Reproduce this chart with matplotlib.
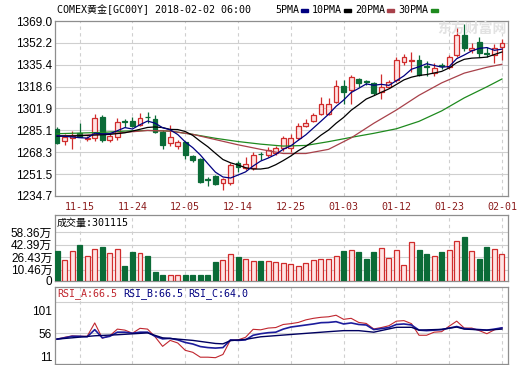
import matplotlib
matplotlib.use("Agg")
import matplotlib.pyplot as plt

plt.rcParams['font.family'] = ['Liberation Sans', 'Noto Sans CJK SC']

# ---- data ----
dates = ['11-15', '11-24', '12-05', '12-14', '12-25', '01-03', '01-12', '01-23', '02-01']
date_idx = [3, 10, 17, 24, 31, 38, 45, 52, 59]

opens = [1286.0, 1277.0, 1279.0, 1282.8, 1278.5, 1279.0, 1295.0, 1277.7, 1279.7, 1292.0,
         1292.5, 1289.2, 1295.5, 1293.5, 1284.0, 1275.1, 1273.0, 1276.4, 1265.4, 1262.9,
         1247.4, 1250.0, 1245.0, 1244.4, 1259.8, 1256.0, 1256.0, 1267.0, 1266.2, 1267.5,
         1271.3, 1271.3, 1279.0, 1288.4, 1292.5, 1297.6, 1297.6, 1307.1, 1319.1, 1316.0,
         1324.7, 1322.7, 1321.2, 1314.7, 1318.6, 1323.7, 1337.8, 1338.5, 1339.1, 1334.3,
         1328.9, 1334.8, 1334.0, 1343.0, 1358.3, 1346.7, 1353.1, 1344.8, 1342.9, 1348.8]
highs = [1288.0, 1282.0, 1284.8, 1290.5, 1280.5, 1297.6, 1297.0, 1282.5, 1294.3, 1294.0,
         1295.0, 1298.6, 1299.0, 1297.0, 1285.0, 1289.2, 1278.0, 1277.0, 1266.5, 1264.0,
         1249.5, 1250.8, 1248.5, 1260.3, 1261.5, 1264.9, 1268.7, 1268.5, 1272.0, 1273.0,
         1280.5, 1282.3, 1290.5, 1293.5, 1298.6, 1310.9, 1310.0, 1323.7, 1323.7, 1327.5,
         1325.5, 1324.0, 1322.5, 1328.0, 1324.0, 1341.0, 1344.0, 1345.0, 1343.0, 1338.0,
         1336.5, 1337.0, 1343.0, 1364.5, 1366.5, 1352.0, 1357.0, 1349.0, 1351.5, 1355.5]
lows = [1274.6, 1274.0, 1270.5, 1279.7, 1277.0, 1277.0, 1276.0, 1276.5, 1278.0, 1287.5,
        1287.5, 1288.5, 1291.0, 1283.0, 1270.8, 1273.0, 1270.5, 1263.0, 1261.0, 1244.5,
        1242.4, 1243.0, 1239.3, 1243.5, 1253.5, 1254.6, 1255.0, 1262.0, 1265.0, 1266.0,
        1269.5, 1268.5, 1277.5, 1287.5, 1291.7, 1296.9, 1296.9, 1306.0, 1305.0, 1305.0,
        1318.0, 1320.0, 1312.0, 1309.0, 1317.5, 1322.5, 1335.5, 1330.0, 1326.5, 1327.0,
        1327.0, 1332.5, 1332.0, 1341.0, 1346.0, 1344.5, 1341.0, 1341.5, 1337.0, 1339.0]
closes = [1275.6, 1280.0, 1280.5, 1280.0, 1279.5, 1294.3, 1277.7, 1281.0, 1291.7, 1291.5,
          1288.4, 1294.3, 1295.0, 1284.0, 1274.0, 1280.2, 1276.4, 1266.2, 1262.3, 1245.7,
          1247.0, 1243.9, 1247.5, 1258.5, 1257.2, 1259.0, 1266.2, 1266.7, 1270.0, 1271.3,
          1279.0, 1279.0, 1288.4, 1291.0, 1296.9, 1305.3, 1305.3, 1319.1, 1314.7, 1326.3,
          1321.2, 1322.4, 1314.0, 1318.1, 1322.4, 1339.1, 1341.1, 1339.3, 1327.6, 1334.0,
          1332.7, 1334.5, 1341.1, 1358.3, 1348.0, 1348.5, 1344.2, 1344.0, 1348.0, 1352.3]

# volume in 万
volume = [34.3, 22.6, 34.3, 42.1, 27.8, 36.9, 39.9, 31.7, 36.9, 15.2,
          33.4, 31.3, 27.8, 7.4, 4.0, 3.1, 3.1, 4.0, 4.0, 4.0,
          4.0, 20.4, 23.0, 30.0, 26.5, 24.8, 22.2, 22.2, 21.7, 20.0,
          19.1, 18.3, 14.8, 19.6, 22.6, 23.9, 23.9, 27.8, 34.7, 35.6,
          33.4, 24.8, 33.0, 37.8, 26.1, 35.6, 17.0, 45.6, 35.6, 30.4,
          27.4, 33.4, 35.6, 47.3, 52.5, 34.3, 23.9, 39.9, 36.9, 30.1]

ma5 = [1281.0, 1280.5, 1280.0, 1279.5, 1279.1, 1282.9, 1282.4, 1282.5, 1284.8, 1287.2,
       1286.1, 1289.4, 1292.2, 1290.6, 1287.1, 1285.5, 1281.9, 1276.2, 1271.8, 1266.2,
       1259.5, 1253.0, 1249.3, 1248.5, 1250.8, 1253.2, 1257.7, 1261.5, 1263.8, 1266.6,
       1270.6, 1273.2, 1277.5, 1281.7, 1286.9, 1292.1, 1297.4, 1303.5, 1308.3, 1314.1,
       1317.3, 1320.7, 1319.7, 1320.4, 1319.6, 1323.2, 1326.9, 1332.0, 1333.9, 1336.2,
       1334.9, 1333.6, 1334.0, 1340.1, 1342.9, 1346.1, 1348.0, 1348.6, 1346.5, 1347.4]
ma10 = [1280.5, 1280.7, 1280.8, 1281.0, 1281.2, 1281.5, 1281.7, 1282.0, 1282.6, 1283.2,
        1284.5, 1285.9, 1287.3, 1287.7, 1287.2, 1285.8, 1285.7, 1284.2, 1281.2, 1276.7,
        1272.5, 1267.5, 1262.7, 1260.2, 1258.5, 1256.4, 1255.4, 1255.4, 1256.2, 1258.7,
        1261.9, 1265.4, 1269.5, 1272.8, 1276.8, 1281.4, 1285.3, 1290.5, 1295.0, 1300.5,
        1304.7, 1309.1, 1311.6, 1314.3, 1316.9, 1320.3, 1323.8, 1325.9, 1327.2, 1327.9,
        1329.1, 1330.3, 1333.0, 1337.0, 1339.6, 1340.5, 1340.8, 1341.3, 1343.3, 1345.2]
ma_slow_idx = [0, 3, 6, 9, 12, 15, 18, 21, 24, 27, 30, 33, 36, 39, 42, 45, 48, 51, 54, 57, 59]
ma20 = [1281.0, 1281.2, 1282.0, 1283.5, 1285.0, 1284.5, 1282.0, 1278.0, 1274.0, 1270.5, 1267.3,
        1267.3, 1270.5, 1279.3, 1290.5, 1300.7, 1312.0, 1321.5, 1329.0, 1333.5, 1335.8]
ma30 = [1282.5, 1283.0, 1283.5, 1284.5, 1285.0, 1284.5, 1282.0, 1279.0, 1276.5, 1274.5, 1273.0,
        1273.5, 1276.4, 1279.7, 1282.8, 1286.3, 1292.0, 1300.0, 1310.0, 1318.5, 1324.5]

rsi_a = [44.5, 48, 50.8, 50, 50, 76, 46.4, 51, 64, 62,
         56, 65.5, 64, 49, 30.4, 42, 37, 22.7, 18.8, 9.3,
         9.3, 8.3, 14.6, 43, 43, 48, 63.6, 62.6, 66, 67,
         73, 74.6, 77, 82, 85, 87, 88, 91, 83, 85,
         77, 75, 64.3, 67, 70.5, 79.5, 80.5, 74.6, 52, 52,
         58, 59, 69.7, 79.5, 66, 66, 61, 55, 62.6, 66.5]
rsi_b = [44.5, 47, 50, 50, 49, 63, 47, 50, 58, 58,
         56, 58, 58, 50, 45, 46, 43, 38, 35, 30,
         28, 27, 28, 43, 42, 43, 52, 55, 57, 58,
         64, 68, 70, 72, 74, 76.5, 77, 78.5, 74, 76,
         73, 72, 63, 65, 67, 73, 74, 72, 62, 61,
         62, 63, 66, 69, 65, 64, 63, 62, 64, 66.5]
rsi_c_idx = [0, 2, 5, 8, 12, 14, 18, 21, 22, 23, 25, 27, 31, 36, 38, 40, 42, 45, 47, 48, 51, 53, 54, 57, 59]
rsi_c = [44.5, 47, 51, 53, 56.6, 47, 42, 36, 35.3, 41.5, 44, 49, 53.5, 59, 61, 61, 58, 67.5, 67.5,
         62, 63.5, 68, 64, 62, 64.0]

price_ticks = [1234.7, 1251.5, 1268.3, 1285.1, 1301.9, 1318.6, 1335.4, 1352.2, 1369.0]
vol_ticks = [10.46, 26.43, 42.39, 58.36]
rsi_ticks = [11, 56, 101]

# ---- styling ----
UP_EDGE = '#d02c2c'
UP_FACE = '#ffe3e3'
DOWN = '#0b6b37'
GRID = '#cfcfcf'
BORDER = '#8e8e8e'
DATE_COLOR = '#8b1c1c'
MONO = ['DejaVu Sans Mono', 'Noto Sans CJK SC']

W, H = 520, 365
fig = plt.figure(figsize=(W / 100, H / 100), dpi=100)
fig.patch.set_facecolor('white')

n = len(closes)
xs = list(range(n))
up = [c >= o for o, c in zip(opens, closes)]


def panel(l, t, r, b):
    ax = fig.add_axes([l / W, 1 - b / H, (r - l) / W, (b - t) / H])
    for s in ax.spines.values():
        s.set_color(BORDER)
        s.set_linewidth(0.9)
    ax.set_xlim(-0.27, 59.8)
    ax.set_xticks([])
    ax.tick_params(length=0, labelsize=8.5, pad=2)
    for d in date_idx:
        ax.axvline(d, color=GRID, lw=0.8, ls=(0, (3, 3)), zorder=0)
    return ax


# main price panel
ax = panel(55, 21, 508, 196)
ax.set_ylim(price_ticks[0], price_ticks[-1])
ax.set_yticks(price_ticks)
ax.set_yticklabels(['%.1f' % v for v in price_ticks])
for v in price_ticks[1:-1]:
    ax.axhline(v, color=GRID, lw=0.8, zorder=0)

for i in xs:
    col = UP_EDGE if up[i] else DOWN
    ax.vlines(i, lows[i], highs[i], color=col, lw=0.9, zorder=2)
    lo = min(opens[i], closes[i])
    h = max(abs(closes[i] - opens[i]), 0.35)
    ax.bar(i, h, bottom=lo, width=0.64, color=UP_FACE if up[i] else DOWN,
           edgecolor=col, linewidth=0.9, zorder=3)

ax.plot(ma_slow_idx, ma30, color='#1e8a1e', lw=0.9, zorder=4)
ax.plot(ma_slow_idx, ma20, color='#a8414a', lw=0.9, zorder=4)
ax.plot(xs, ma10, color='black', lw=0.9, zorder=4)
ax.plot(xs, ma5, color='#000080', lw=0.9, zorder=4)

for d, lab in zip(date_idx, dates):
    ax.text(d, -0.06, lab, transform=ax.get_xaxis_transform(), ha='center', va='center',
            color=DATE_COLOR, fontsize=7.2, family='DejaVu Sans Mono')

# watermark
fig.text(437 / W, 1 - 29 / H, '东方财富网', fontsize=10, color='#e2e2e2',
         family='Noto Sans CJK SC', fontweight='bold', va='center', ha='left', zorder=0)

# title and MA legend
fig.text(57 / W, 1 - 10 / H, 'COMEX黄金[GC00Y] 2018-02-02 06:00', fontsize=7.2,
         family=MONO, va='center', ha='left')
legend = [('5PMA', '#000080'), ('10PMA', 'black'), ('20PMA', '#a8414a'), ('30PMA', '#1e8a1e')]
x0 = 275
for lab, col in legend:
    fig.text(x0 / W, 1 - 10 / H, lab, fontsize=7.2, family=MONO, va='center', ha='left')
    x0 += len(lab) * 6.03 + 2
    fig.patches.append(plt.Rectangle((x0 / W, 1 - 11.5 / H), 7 / W, 3 / H, color=col,
                                     transform=fig.transFigure, figure=fig))
    x0 += 7 + 4

# volume panel
av = panel(55, 215, 508, 280.5)
vol_floor = -3.5
av.set_ylim(vol_floor, 80.8)
av.set_yticks([vol_floor] + vol_ticks)
av.set_yticklabels(['0'] + ['%.2f万' % v for v in vol_ticks])
for v in vol_ticks:
    av.axhline(v, color=GRID, lw=0.8, zorder=0)
av.bar(xs, [v - vol_floor for v in volume], bottom=vol_floor, width=0.66,
       color=[UP_FACE if u else DOWN for u in up],
       edgecolor=[UP_EDGE if u else DOWN for u in up], linewidth=0.9, zorder=3)
av.text(57 / W, 1 - 223 / H, '成交量:301115', transform=fig.transFigure, fontsize=7.2,
        family=MONO, va='center', ha='left')

# RSI panel
ar = panel(55, 287, 508, 363.5)
ar.set_ylim(-3, 146)
ar.set_yticks(rsi_ticks)
ar.set_yticklabels([str(v) for v in rsi_ticks])
ar.axhline(56, color=GRID, lw=0.8, zorder=0)
ar.axhline(117, color=GRID, lw=0.8, zorder=0)   # separator under the RSI caption
ar.plot(xs, rsi_a, color='#c0262e', lw=0.8, zorder=4)
ar.plot(xs, rsi_b, color='#1c1c9c', lw=1.2, zorder=4)
ar.plot(rsi_c_idx, rsi_c, color='#000060', lw=1.0, zorder=4)
for x, lab, col in [(57, 'RSI_A:66.5', '#c0262e'), (123, 'RSI_B:66.5', '#000080'),
                    (188, 'RSI_C:64.0', '#000080')]:
    fig.text(x / W, 1 - 294 / H, lab, fontsize=7.2, family=MONO, color=col,
             va='center', ha='left')

fig.savefig('out.png', dpi=100)
